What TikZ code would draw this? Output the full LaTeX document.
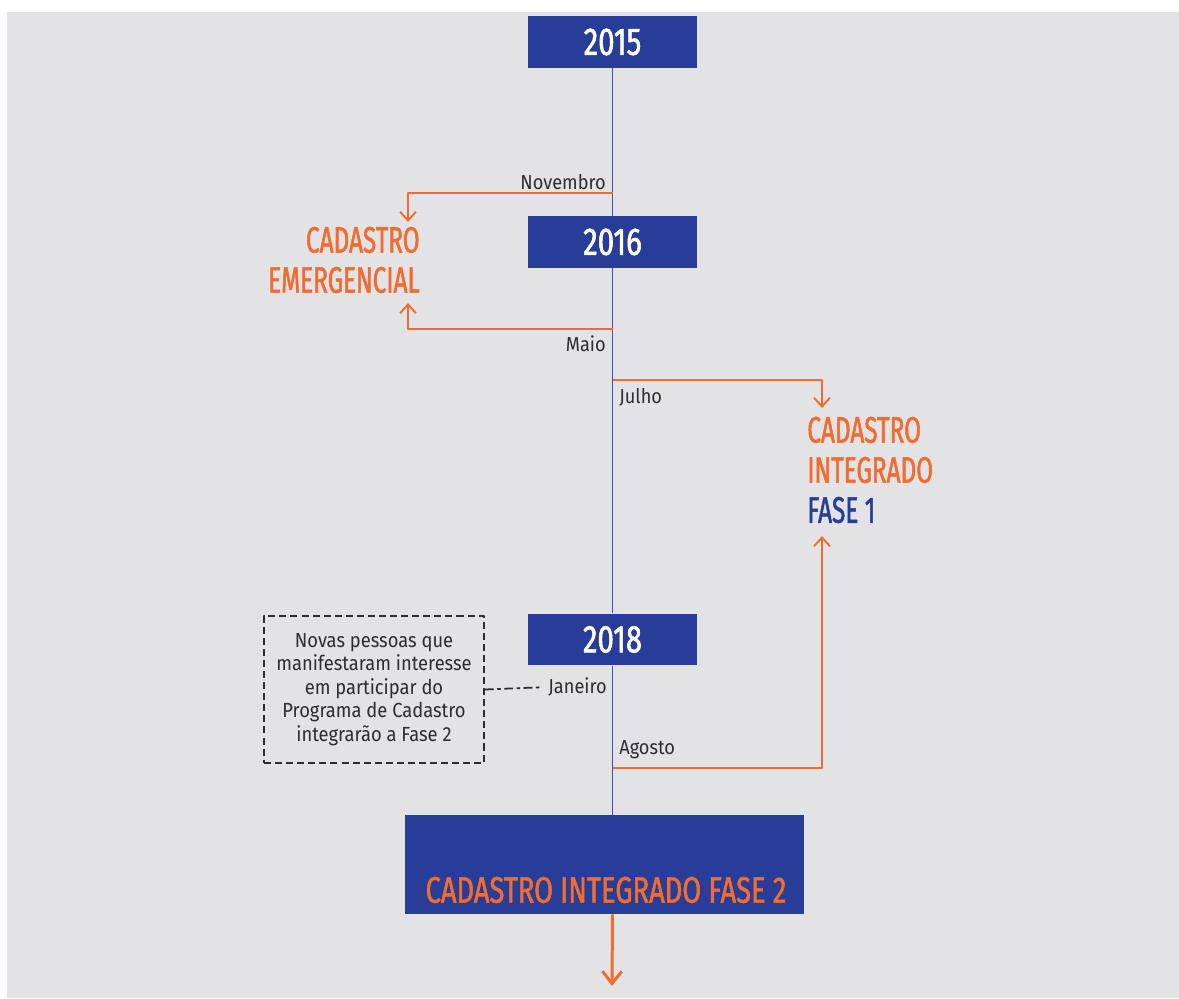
\documentclass[tikz,border=0pt]{standalone}
\usepackage{fontspec}
\setmainfont{Fira Sans}
\newfontfamily\headfont[FakeStretch=0.66,FakeBold=1.4]{Fira Sans}
\newfontfamily\yearfont[FakeStretch=0.76,FakeBold=1.4]{Fira Sans}
\newfontfamily\widefont[FakeStretch=0.74,FakeBold=1.4]{Fira Sans}
\newfontfamily\labelfont[FakeStretch=0.9]{Fira Sans}
\usetikzlibrary{arrows.meta, positioning}
\definecolor{bg_grey}{RGB}{227,227,229}
\definecolor{box_blue}{RGB}{40,61,151}
\definecolor{line_blue}{RGB}{62,80,172}
\definecolor{cad_orange}{RGB}{240,108,48}
\definecolor{txt_grey}{RGB}{45,45,48}

\begin{document}
\begin{tikzpicture}[x=0.02cm,y=-0.02cm,line join=round,
		yearbox/.style={fill=box_blue,minimum width=3.38cm,minimum height=1.04cm,inner sep=0pt,text=white,font=\yearfont\fontsize{22}{24}\selectfont},
		heading/.style={text=cad_orange,inner sep=0pt,font=\headfont\fontsize{21}{22.8}\selectfont},
		month/.style={text=txt_grey,inner sep=0pt,font=\labelfont\fontsize{11.5}{13}\selectfont},
		notebox/.style={draw=txt_grey,line width=1.1pt,dash pattern=on 4pt off 2.3pt,minimum width=4.4cm,minimum height=2.94cm,inner sep=0pt,align=center,text=txt_grey,font=\labelfont\fontsize{11.6}{13.3}\selectfont},
		branch/.style={draw=cad_orange,line width=1.1pt,-{Straight Barb[length=5pt,width=9pt]}}]
		\fill[white] (0,0) rectangle (1179,999);
		\fill[bg_grey] (7,12) rectangle (1179,998);
		\useasboundingbox (0,0) rectangle (1179,999);

		\foreach\yr/\ypos in {2015/42,2016/242,2018/639.5}
		{
			\node[yearbox] (y\yr) at (612.5,\ypos) {\yr};
		}
		\node[fill=box_blue,minimum width=7.98cm,minimum height=1.98cm,inner sep=0pt] (fase2) at (604.5,864.5) {};
		\node[heading,font=\widefont\fontsize{21}{22.8}\selectfont] (fase2txt) at (606,890) {CADASTRO INTEGRADO FASE 2};
		\draw[line_blue,line width=1.1pt] (y2015) -- (y2016) -- (y2018) -- (y2018 |- fase2.north);

		\node[heading,anchor=east,align=right] (emerg) at (420,260) {CADASTRO\\EMERGENCIAL};
		\node[heading,anchor=west,align=left] (fase1) at (807,470) {CADASTRO\\INTEGRADO\\\textcolor{box_blue}{FASE 1}};

		\coordinate (nov) at (613,193);
		\coordinate (mai) at (613,329);
		\coordinate (jul) at (613,380);
		\coordinate (ago) at (613,768);
		\coordinate (emergtop) at (408,222);
		\coordinate (emergbot) at (408,303);
		\coordinate (fase1top) at (822,408);
		\coordinate (fase1bot) at (822,536);
		\coordinate (arrowend) at (612,986);

		\draw[branch] (nov) -| (emergtop);
		\draw[branch] (mai) -| (emergbot);
		\draw[branch] (jul) -| (fase1top);
		\draw[branch] (ago) -| (fase1bot);

		\node[month,anchor=east] (novlbl) at (606,182) {Novembro};
		\node[month,anchor=east] (mailbl) at (606,344) {Maio};
		\node[month,anchor=west] (jullbl) at (619,397) {Julho};
		\node[month,anchor=west] (agolbl) at (619,750) {Agosto};
		\node[month,anchor=east] (janlbl) at (607,687) {Janeiro};

		\node[notebox] (note) at (374,689.5) {Novas pessoas que\\manifestaram interesse\\em participar do\\Programa de Cadastro\\integrarão a Fase 2};
		\draw[txt_grey,line width=1pt,dash pattern=on 5pt off 2pt on 2pt off 2pt,shorten >=4pt] (note.east) -- (janlbl.west);

		\draw[cad_orange,line width=1.7pt,-{Straight Barb[length=7pt,width=11pt]}] (fase2.south -| y2015) -- (arrowend);
	\end{tikzpicture}
\end{document}
